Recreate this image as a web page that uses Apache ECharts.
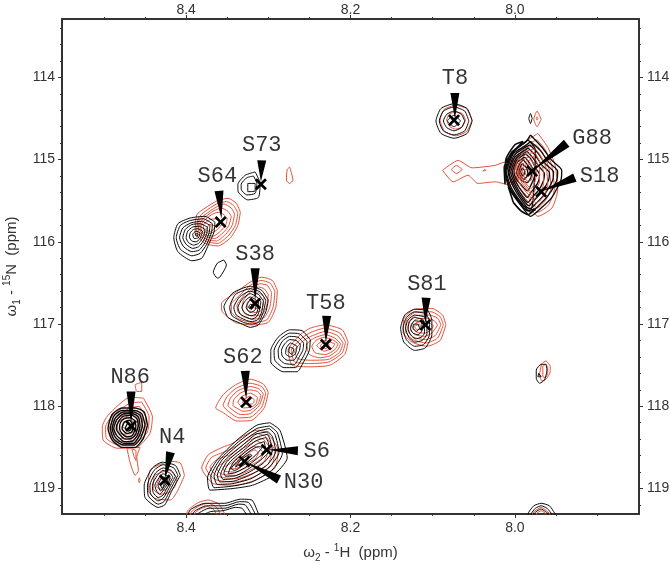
<!DOCTYPE html>
<html><head><meta charset="utf-8">
<style>html,body{margin:0;padding:0;background:#fff}#c{width:670px;height:565px}</style>
<script src="https://cdn.jsdelivr.net/npm/echarts@6/dist/echarts.min.js"></script>
</head><body><div id="c"></div>
<script>
// tick values (ppm)
const hMajor = [8.4, 8.2, 8.0];
const hMinor = [8.5, 8.45, 8.35, 8.3, 8.25, 8.15, 8.1, 8.05, 7.95, 7.9];
const nMajor = [114, 115, 116, 117, 118, 119];
const nMinor = [113.4, 113.6, 113.8, 114.2, 114.4, 114.6, 114.8, 115.2, 115.4, 115.6, 115.8, 116.2, 116.4, 116.6, 116.8, 117.2, 117.4, 117.6, 117.8, 118.2, 118.4, 118.6, 118.8, 119.2];

// assignments: name, peak 1H, peak 15N, label 1H, label 15N, pointer base 1H, base 15N, pointer tip 1H, tip 15N
const peakNames = ['T8','S73','S64','S38','T58','S62','N86','N4','S81','S6','N30','G88','S18'];
const peakH = [8.074,8.309,8.358,8.316,8.230,8.327,8.467,8.426,8.109,8.302,8.329,7.979,7.968];
const peakN = [114.52,115.30,115.76,116.75,117.25,117.95,118.24,118.90,117.01,118.53,118.67,115.14,115.39];
const labelH = [8.073,8.308,8.362,8.316,8.230,8.331,8.468,8.417,8.107,8.241,8.257,7.906,7.897];
const labelN = [114.01,114.82,115.20,116.15,116.75,117.40,117.65,118.38,116.51,118.55,118.92,114.74,115.20];
const baseH = [8.073,8.308,8.360,8.316,8.229,8.328,8.467,8.419,8.108,8.264,8.287,7.937,7.927];
const baseN = [114.19,115.01,115.38,116.32,116.90,117.57,117.82,118.56,116.68,118.54,118.89,114.80,115.22];
const tipH = [8.073,8.309,8.357,8.316,8.230,8.327,8.467,8.426,8.109,8.300,8.327,7.978,7.966];
const tipN = [114.50,115.27,115.72,116.71,117.22,117.91,118.21,118.88,116.99,118.53,118.68,115.13,115.38];

// contour loops: flat 1H,15N lists in ppm
const redT8 = [
[8.052,114.52,8.059,114.38,8.072,114.34,8.086,114.39,8.091,114.52,8.085,114.66,8.072,114.71,8.059,114.66],
[8.060,114.52,8.064,114.44,8.072,114.42,8.080,114.45,8.083,114.52,8.079,114.60,8.072,114.63,8.064,114.60]];
const blackT8 = [
[8.052,114.53,8.058,114.38,8.074,114.32,8.090,114.38,8.096,114.53,8.090,114.68,8.074,114.74,8.058,114.68],
[8.056,114.53,8.061,114.41,8.074,114.36,8.087,114.41,8.092,114.53,8.087,114.65,8.074,114.70,8.061,114.65],
[8.061,114.53,8.065,114.45,8.074,114.41,8.083,114.45,8.087,114.53,8.083,114.61,8.074,114.65,8.065,114.61],
[8.066,114.53,8.074,114.46,8.082,114.53,8.074,114.60]];
const blackS73 = [
[8.316,115.15,8.310,115.29,8.312,115.46,8.325,115.49,8.337,115.38,8.337,115.30,8.328,115.19],
[8.318,115.20,8.314,115.29,8.316,115.41,8.326,115.43,8.333,115.36,8.333,115.30,8.326,115.22],
[8.316,115.29,8.316,115.38,8.325,115.39,8.325,115.29]];
const redNearS73 = [[8.274,115.09,8.270,115.25,8.274,115.29,8.278,115.25,8.277,115.12]];
const redS64 = [
[8.334,115.64,8.339,115.53,8.349,115.47,8.362,115.50,8.377,115.59,8.387,115.67,8.389,115.88,8.377,116.02,8.361,116.05,8.346,115.95,8.337,115.80],
[8.337,115.65,8.342,115.56,8.351,115.51,8.363,115.54,8.377,115.63,8.385,115.71,8.387,115.87,8.376,115.99,8.362,116.02,8.349,115.93,8.340,115.80],
[8.341,115.66,8.345,115.59,8.354,115.54,8.364,115.58,8.377,115.67,8.384,115.74,8.385,115.86,8.375,115.97,8.363,115.99,8.352,115.91,8.344,115.80],
[8.345,115.69,8.349,115.63,8.357,115.59,8.366,115.62,8.378,115.71,8.383,115.78,8.383,115.86,8.375,115.94,8.365,115.96,8.355,115.89,8.348,115.80],
[8.350,115.72,8.354,115.67,8.361,115.64,8.369,115.67,8.379,115.75,8.382,115.81,8.381,115.87,8.375,115.92,8.367,115.93,8.358,115.87,8.352,115.80],
[8.356,115.78,8.362,115.72,8.371,115.73,8.379,115.80,8.378,115.87,8.371,115.90,8.362,115.85],
[8.364,115.81,8.371,115.79,8.376,115.85,8.370,115.88]];
const blackS64 = [
[8.365,115.76,8.377,115.69,8.395,115.71,8.410,115.78,8.415,115.95,8.410,116.12,8.393,116.23,8.381,116.20,8.373,116.04,8.366,115.88],
[8.368,115.78,8.379,115.72,8.395,115.74,8.407,115.80,8.412,115.95,8.407,116.09,8.393,116.17,8.383,116.14,8.375,116.03,8.369,115.88],
[8.371,115.80,8.381,115.75,8.394,115.77,8.404,115.83,8.408,115.95,8.403,116.06,8.393,116.12,8.384,116.10,8.377,116.01,8.372,115.89],
[8.374,115.82,8.383,115.78,8.393,115.79,8.401,115.85,8.404,115.95,8.400,116.03,8.392,116.08,8.385,116.06,8.379,115.99,8.375,115.90],
[8.377,115.85,8.384,115.81,8.392,115.82,8.398,115.87,8.400,115.95,8.397,116.01,8.391,116.04,8.385,116.02,8.381,115.97,8.378,115.91],
[8.380,115.87,8.386,115.84,8.391,115.85,8.395,115.89,8.396,115.94,8.393,115.99,8.388,116.00,8.383,115.96],
[8.383,115.89,8.388,115.87,8.392,115.91,8.390,115.96,8.385,115.95],
[8.386,115.90,8.389,115.90,8.388,115.93,8.386,115.93]];
const blackSmall = [[8.354,116.22,8.351,116.28,8.359,116.43,8.362,116.44,8.367,116.37,8.362,116.26]];
const redS38 = [
[8.289,116.59,8.295,116.47,8.308,116.43,8.322,116.49,8.340,116.62,8.357,116.75,8.356,116.85,8.340,116.98,8.320,117.01,8.300,116.98,8.291,116.80],
[8.292,116.60,8.298,116.50,8.309,116.47,8.322,116.53,8.336,116.66,8.345,116.76,8.345,116.85,8.335,116.94,8.320,116.98,8.302,116.95,8.294,116.79],
[8.296,116.62,8.301,116.53,8.310,116.51,8.322,116.57,8.332,116.68,8.338,116.77,8.337,116.85,8.330,116.91,8.320,116.94,8.305,116.92,8.298,116.79],
[8.300,116.64,8.305,116.57,8.312,116.55,8.322,116.61,8.330,116.71,8.332,116.80,8.328,116.88,8.318,116.90,8.307,116.88,8.302,116.78],
[8.305,116.67,8.312,116.62,8.320,116.68,8.326,116.75,8.325,116.83,8.316,116.86,8.308,116.83],
[8.312,116.72,8.318,116.72,8.320,116.79,8.314,116.81]];
const blackS38 = [
[8.300,116.71,8.308,116.59,8.322,116.54,8.343,116.62,8.354,116.79,8.349,116.92,8.334,116.99,8.322,117.04,8.312,117.01,8.303,116.85],
[8.303,116.71,8.310,116.61,8.322,116.57,8.340,116.64,8.347,116.80,8.344,116.90,8.330,116.98,8.321,117.00,8.312,116.98,8.306,116.85],
[8.306,116.72,8.312,116.64,8.322,116.60,8.335,116.67,8.342,116.80,8.339,116.89,8.328,116.95,8.321,116.97,8.313,116.95,8.308,116.85],
[8.309,116.73,8.314,116.67,8.322,116.63,8.332,116.70,8.337,116.80,8.334,116.88,8.326,116.92,8.320,116.94,8.314,116.91,8.311,116.84],
[8.312,116.74,8.316,116.70,8.322,116.67,8.329,116.73,8.332,116.80,8.329,116.86,8.321,116.90,8.315,116.88,8.313,116.83],
[8.315,116.75,8.322,116.71,8.327,116.80,8.322,116.86,8.316,116.83],
[8.318,116.77,8.322,116.76,8.324,116.80,8.320,116.82]];
const redT58 = [
[8.203,117.22,8.210,117.07,8.231,117.01,8.249,117.05,8.261,117.13,8.276,117.32,8.271,117.50,8.249,117.52,8.225,117.50,8.207,117.37],
[8.206,117.22,8.213,117.11,8.231,117.05,8.248,117.10,8.259,117.17,8.272,117.32,8.268,117.46,8.249,117.48,8.226,117.46,8.210,117.35],
[8.209,117.23,8.216,117.14,8.231,117.09,8.246,117.14,8.257,117.20,8.268,117.33,8.264,117.42,8.249,117.44,8.227,117.43,8.213,117.34],
[8.212,117.24,8.219,117.17,8.231,117.13,8.244,117.17,8.253,117.25,8.250,117.37,8.237,117.41,8.226,117.39,8.216,117.32],
[8.215,117.24,8.222,117.19,8.232,117.16,8.242,117.20,8.247,117.27,8.243,117.35,8.230,117.37,8.219,117.31],
[8.219,117.24,8.232,117.20,8.241,117.26,8.232,117.33,8.222,117.29],
[8.226,117.25,8.233,117.23,8.237,117.27,8.230,117.30]];
const blackT58 = [
[8.249,117.19,8.259,117.08,8.274,117.07,8.288,117.16,8.297,117.32,8.297,117.46,8.282,117.58,8.265,117.58,8.257,117.46,8.250,117.32],
[8.253,117.21,8.262,117.12,8.274,117.11,8.286,117.19,8.293,117.32,8.292,117.44,8.281,117.53,8.267,117.53,8.260,117.44,8.254,117.32],
[8.257,117.23,8.264,117.16,8.274,117.15,8.283,117.21,8.288,117.32,8.287,117.42,8.280,117.48,8.268,117.49,8.263,117.41,8.258,117.32],
[8.261,117.25,8.266,117.20,8.274,117.19,8.280,117.24,8.284,117.32,8.283,117.39,8.277,117.44,8.269,117.44,8.265,117.38,8.262,117.32],
[8.265,117.27,8.273,117.23,8.278,117.29,8.279,117.36,8.273,117.40,8.267,117.36],
[8.269,117.30,8.274,117.28,8.275,117.34,8.271,117.37]];
const redS62 = [
[8.300,117.83,8.306,117.73,8.322,117.67,8.340,117.74,8.355,117.86,8.364,118.02,8.356,118.07,8.338,118.18,8.320,118.17,8.305,118.02],
[8.303,117.84,8.308,117.76,8.322,117.72,8.339,117.78,8.350,117.88,8.355,117.99,8.350,118.05,8.336,118.14,8.321,118.13,8.308,118.01],
[8.306,117.85,8.311,117.79,8.322,117.76,8.337,117.81,8.346,117.90,8.349,117.99,8.344,118.04,8.334,118.10,8.322,118.09,8.311,117.99],
[8.309,117.87,8.313,117.82,8.323,117.80,8.334,117.84,8.342,117.92,8.343,117.99,8.337,118.03,8.331,118.06,8.322,118.05,8.313,117.98],
[8.313,117.89,8.322,117.84,8.332,117.88,8.337,117.95,8.330,118.02,8.321,118.01,8.315,117.97],
[8.317,117.92,8.323,117.88,8.330,117.92,8.331,117.96,8.324,117.98,8.318,117.96]];
const redN86 = [
[8.452,117.90,8.441,118.13,8.444,118.33,8.460,118.50,8.484,118.51,8.501,118.41,8.502,118.25,8.495,118.11,8.468,117.89],
[8.454,117.95,8.445,118.13,8.447,118.31,8.461,118.45,8.483,118.47,8.497,118.39,8.498,118.25,8.490,118.12,8.468,117.96],
[8.457,118.00,8.449,118.14,8.451,118.30,8.463,118.42,8.482,118.43,8.491,118.37,8.493,118.25,8.486,118.14,8.468,118.02],
[8.459,118.05,8.453,118.15,8.455,118.28,8.465,118.38,8.480,118.39,8.487,118.33,8.489,118.24,8.483,118.15,8.469,118.07],
[8.461,118.10,8.458,118.18,8.460,118.27,8.467,118.33,8.478,118.34,8.483,118.29,8.484,118.22,8.478,118.16,8.469,118.11],
[8.466,118.17,8.463,118.23,8.470,118.28,8.477,118.25,8.476,118.19]];
const redN86Extras = [
[8.472,118.51,8.468,118.69,8.462,118.84,8.458,118.78,8.460,118.62,8.456,118.50],
[8.466,118.52,8.463,118.62,8.461,118.66,8.461,118.54],
[8.454,117.71,8.454,117.82,8.460,117.82,8.462,117.74],
[8.457,118.87,8.456,118.90,8.457,118.93,8.458,118.90]];
const blackN86 = [
[8.447,118.23,8.451,118.07,8.462,118.02,8.478,118.02,8.490,118.10,8.495,118.27,8.490,118.41,8.478,118.50,8.462,118.50,8.452,118.39],
[8.450,118.23,8.454,118.09,8.463,118.05,8.478,118.05,8.488,118.12,8.492,118.27,8.488,118.40,8.477,118.47,8.463,118.47,8.455,118.38],
[8.453,118.24,8.456,118.11,8.464,118.07,8.477,118.07,8.486,118.14,8.490,118.27,8.486,118.38,8.476,118.45,8.464,118.45,8.457,118.36],
[8.456,118.24,8.458,118.13,8.465,118.09,8.476,118.09,8.484,118.16,8.488,118.27,8.484,118.36,8.475,118.43,8.465,118.42,8.459,118.35],
[8.458,118.24,8.460,118.15,8.466,118.11,8.476,118.12,8.482,118.18,8.485,118.27,8.481,118.34,8.474,118.40,8.466,118.39,8.461,118.33],
[8.461,118.24,8.463,118.17,8.468,118.14,8.475,118.15,8.480,118.20,8.481,118.27,8.478,118.33,8.472,118.37,8.466,118.36,8.463,118.31],
[8.464,118.24,8.469,118.17,8.475,118.19,8.478,118.27,8.472,118.33,8.466,118.31],
[8.467,118.23,8.471,118.21,8.474,118.27,8.470,118.30,8.467,118.28]];
const redN4 = [
[8.402,118.84,8.407,118.69,8.419,118.67,8.444,118.78,8.446,119.02,8.438,119.12,8.419,119.14,8.410,119.02],
[8.411,118.88,8.420,118.78,8.438,118.84,8.440,119.00,8.432,119.07,8.421,119.05,8.414,118.98],
[8.420,118.88,8.432,118.88,8.436,118.98,8.426,119.02,8.421,118.96]];
const blackN4 = [
[8.407,118.84,8.413,118.72,8.429,118.68,8.441,118.75,8.451,118.96,8.450,119.11,8.434,119.23,8.426,119.20,8.417,119.02],
[8.410,118.84,8.415,118.75,8.428,118.71,8.439,118.78,8.447,118.96,8.446,119.09,8.434,119.19,8.427,119.16,8.419,119.01],
[8.413,118.85,8.418,118.78,8.428,118.75,8.437,118.81,8.444,118.96,8.443,119.07,8.434,119.15,8.428,119.12,8.421,119.00],
[8.416,118.86,8.420,118.81,8.428,118.78,8.435,118.84,8.441,118.96,8.440,119.05,8.434,119.11,8.428,119.08,8.423,118.99],
[8.419,118.87,8.428,118.82,8.433,118.87,8.438,118.96,8.436,119.03,8.432,119.07,8.425,118.98],
[8.422,118.89,8.428,118.86,8.434,118.96,8.431,119.03,8.427,118.98],
[8.426,118.92,8.431,118.96,8.429,119.00]];
const redS6 = [
[8.302,118.31,8.288,118.53,8.292,118.75,8.316,118.90,8.340,118.96,8.367,118.94,8.381,118.75,8.373,118.59,8.356,118.50,8.343,118.45,8.328,118.35,8.314,118.29],
[8.304,118.36,8.292,118.54,8.296,118.72,8.318,118.86,8.340,118.92,8.365,118.89,8.376,118.75,8.369,118.62,8.352,118.55,8.340,118.49,8.326,118.39,8.314,118.33],
[8.306,118.40,8.296,118.55,8.300,118.70,8.320,118.82,8.340,118.88,8.362,118.85,8.371,118.74,8.363,118.65,8.347,118.59,8.335,118.50,8.324,118.42,8.314,118.38],
[8.309,118.45,8.301,118.56,8.305,118.67,8.323,118.78,8.340,118.84,8.358,118.82,8.363,118.75,8.352,118.67,8.335,118.54,8.322,118.46,8.314,118.42],
[8.312,118.50,8.306,118.57,8.310,118.65,8.326,118.74,8.340,118.80,8.353,118.79,8.355,118.75,8.345,118.69,8.330,118.56,8.318,118.49],
[8.312,118.57,8.316,118.64,8.329,118.71,8.341,118.76,8.348,118.76,8.338,118.68,8.325,118.57,8.316,118.53],
[8.320,118.60,8.332,118.69,8.341,118.72,8.334,118.65,8.324,118.60]];
const blackS6 = [
[8.298,118.20,8.286,118.29,8.277,118.63,8.294,118.84,8.319,118.96,8.343,119.00,8.371,119.02,8.374,118.87,8.362,118.65,8.338,118.41,8.314,118.23],
[8.298,118.24,8.289,118.32,8.283,118.58,8.296,118.78,8.320,118.92,8.343,118.97,8.366,118.99,8.370,118.86,8.359,118.65,8.336,118.43,8.314,118.27],
[8.299,118.27,8.292,118.34,8.287,118.56,8.299,118.74,8.321,118.88,8.343,118.94,8.362,118.95,8.366,118.85,8.356,118.65,8.334,118.45,8.314,118.31],
[8.300,118.31,8.295,118.37,8.291,118.55,8.302,118.72,8.323,118.84,8.342,118.91,8.359,118.92,8.362,118.84,8.353,118.66,8.332,118.48,8.315,118.34],
[8.301,118.34,8.298,118.40,8.295,118.54,8.306,118.69,8.325,118.81,8.342,118.88,8.355,118.89,8.358,118.83,8.350,118.67,8.330,118.50,8.315,118.38],
[8.303,118.38,8.300,118.44,8.299,118.54,8.310,118.66,8.327,118.78,8.342,118.85,8.352,118.85,8.354,118.81,8.347,118.68,8.328,118.52,8.315,118.42],
[8.305,118.43,8.303,118.54,8.313,118.63,8.329,118.75,8.341,118.81,8.349,118.82,8.343,118.69,8.326,118.54,8.314,118.46],
[8.307,118.50,8.316,118.60,8.331,118.72,8.341,118.78,8.345,118.76,8.338,118.67,8.322,118.54,8.312,118.49],
[8.320,118.60,8.334,118.70,8.340,118.74,8.334,118.66,8.322,118.58]];
const redBottomLeft = [
[8.353,119.31,8.360,119.19,8.373,119.14,8.385,119.17,8.398,119.27,8.400,119.40,8.370,119.55,8.350,119.40],
[8.358,119.31,8.364,119.22,8.373,119.18,8.384,119.21,8.394,119.29,8.395,119.40,8.370,119.50,8.355,119.40],
[8.363,119.31,8.367,119.25,8.374,119.22,8.383,119.25,8.390,119.31,8.388,119.40,8.370,119.45,8.360,119.38]];
const blackBottomLeft = [
[8.312,119.31,8.320,119.14,8.334,119.13,8.353,119.18,8.377,119.18,8.395,119.26,8.400,119.40,8.350,119.60,8.310,119.40],
[8.316,119.31,8.324,119.17,8.335,119.16,8.353,119.21,8.375,119.21,8.390,119.28,8.395,119.40,8.350,119.55,8.315,119.40],
[8.321,119.31,8.328,119.20,8.336,119.19,8.353,119.24,8.372,119.24,8.386,119.31,8.390,119.40,8.350,119.50,8.320,119.40],
[8.327,119.31,8.332,119.24,8.340,119.23,8.355,119.27,8.370,119.28,8.380,119.33,8.350,119.45,8.325,119.38]];
const redS81 = [
[8.084,117.01,8.088,116.89,8.101,116.81,8.122,116.82,8.135,116.93,8.136,117.10,8.125,117.22,8.107,117.27,8.091,117.20],
[8.087,117.01,8.091,116.91,8.102,116.85,8.122,116.86,8.132,116.95,8.133,117.09,8.124,117.19,8.108,117.23,8.094,117.17],
[8.090,117.01,8.094,116.93,8.104,116.89,8.121,116.90,8.129,116.97,8.130,117.08,8.123,117.16,8.109,117.19,8.097,117.14],
[8.094,117.01,8.098,116.96,8.106,116.93,8.120,116.94,8.126,117.00,8.127,117.07,8.121,117.13,8.110,117.15,8.101,117.11],
[8.099,117.02,8.108,116.97,8.119,116.98,8.124,117.04,8.119,117.10,8.110,117.11,8.103,117.08],
[8.116,117.00,8.122,117.03,8.119,117.07,8.114,117.05]];
const blackS81 = [
[8.106,116.83,8.122,116.82,8.134,116.89,8.139,117.05,8.135,117.22,8.122,117.32,8.109,117.29,8.101,117.13,8.101,116.95],
[8.108,116.87,8.122,116.85,8.132,116.92,8.136,117.05,8.132,117.19,8.122,117.27,8.111,117.25,8.104,117.13,8.104,116.97],
[8.110,116.91,8.122,116.89,8.130,116.95,8.133,117.05,8.129,117.16,8.122,117.22,8.113,117.20,8.107,117.12,8.107,116.99],
[8.112,116.94,8.122,116.92,8.128,116.97,8.130,117.05,8.127,117.13,8.121,117.18,8.114,117.16,8.110,117.11,8.110,117.00],
[8.114,116.97,8.122,116.96,8.127,117.05,8.124,117.11,8.118,117.13,8.113,117.08,8.113,117.01],
[8.118,117.00,8.123,117.00,8.124,117.05,8.120,117.09,8.116,117.05]];
const redSmallRight = [
[7.957,117.51,7.962,117.45,7.967,117.48,7.970,117.62,7.967,117.69,7.962,117.67,7.957,117.58],
[7.960,117.52,7.963,117.49,7.966,117.52,7.966,117.64,7.963,117.65,7.960,117.60]];
const blackSmallRight = [
[7.962,117.49,7.961,117.56,7.964,117.68,7.970,117.72,7.974,117.66,7.974,117.56,7.968,117.49],
[7.971,117.60,7.968,117.64,7.972,117.64]];
const redBottomRight = [
[7.957,119.31,7.968,119.23,7.979,119.31,7.968,119.42],
[7.962,119.31,7.968,119.27,7.974,119.31,7.968,119.38]];
const blackBottomRight = [
[7.951,119.31,7.958,119.21,7.968,119.18,7.977,119.21,7.984,119.31,7.968,119.50],
[7.955,119.31,7.961,119.24,7.968,119.21,7.975,119.24,7.980,119.31,7.968,119.45],
[7.959,119.31,7.968,119.25,7.977,119.31,7.968,119.40]];
const redDiamond = [
[7.968,114.51,7.973,114.41,7.977,114.51,7.973,114.60],
[7.972,114.50,7.973,114.48,7.974,114.50,7.973,114.52]];
const blackDiamond = [[7.979,114.50,7.981,114.44,7.983,114.50,7.981,114.56]];
const blackG88 = [
[7.981,114.70,7.967,114.85,7.955,115.01,7.943,115.13,7.944,115.25,7.955,115.46,7.967,115.58,7.981,115.69,7.991,115.58,8.006,115.37,8.012,115.16,8.004,114.91,7.987,114.79],
[7.984,114.76,7.975,114.88,7.980,115.60,7.990,115.56,8.005,115.36,8.011,115.16,8.003,114.92],
[7.981,114.78,7.969,114.89,7.959,115.03,7.948,115.14,7.949,115.25,7.959,115.43,7.970,115.55,7.981,115.64,7.990,115.55,8.004,115.35,8.010,115.16,8.002,114.93,7.987,114.83],
[7.982,114.82,7.972,114.92,7.963,115.05,7.953,115.15,7.954,115.25,7.963,115.41,7.973,115.52,7.982,115.60,7.990,115.52,8.002,115.33,8.008,115.16,8.001,114.95,7.989,114.86],
[7.984,114.86,7.975,114.95,7.967,115.07,7.958,115.16,7.959,115.25,7.967,115.39,7.976,115.49,7.983,115.56,7.990,115.49,8.001,115.31,8.007,115.16,8.000,114.97,7.990,114.90],
[7.985,114.90,7.978,114.98,7.971,115.08,7.964,115.17,7.965,115.25,7.971,115.37,7.979,115.46,7.984,115.52,7.990,115.46,8.000,115.29,8.005,115.16,7.999,114.99,7.991,114.93],
[7.987,114.93,7.980,115.00,7.975,115.10,7.970,115.18,7.972,115.28,7.979,115.38,7.985,115.46,7.992,115.38,7.999,115.27,8.003,115.16,7.998,115.01,7.992,114.96],
[7.988,114.97,7.983,115.03,7.978,115.12,7.976,115.19,7.979,115.28,7.985,115.38,7.993,115.30,7.998,115.24,8.001,115.16,7.997,115.03],
[7.990,115.00,7.985,115.06,7.981,115.13,7.980,115.20,7.985,115.28,7.992,115.25,7.998,115.16,7.994,115.05],
[7.991,115.05,7.986,115.10,7.984,115.18,7.989,115.24,7.995,115.16,7.993,115.08],
[7.991,115.10,7.988,115.14,7.990,115.20,7.993,115.15]];
const blackG88Edge = [
[8.012,115.30,8.013,115.10,8.006,114.95,7.998,114.86,7.990,114.78,8.000,114.82,8.011,115.00],
[8.002,115.52,7.993,115.62,7.984,115.67,7.975,115.60,7.985,115.62,7.995,115.52,8.008,115.33]];
const redG88 = [
[7.972,114.68,7.960,114.85,7.951,115.07,7.948,115.37,7.955,115.59,7.972,115.69,7.984,115.55,8.000,115.37,8.008,115.13,8.000,114.88,7.984,114.76],
[7.973,114.76,7.963,114.88,7.955,115.08,7.952,115.36,7.959,115.55,7.972,115.64,7.984,115.51,7.997,115.35,8.005,115.13,7.998,114.91,7.985,114.81],
[7.974,114.82,7.966,114.92,7.959,115.09,7.956,115.34,7.963,115.50,7.973,115.59,7.983,115.47,7.995,115.33,8.003,115.13,7.996,114.94,7.986,114.86],
[7.975,114.87,7.969,114.95,7.962,115.10,7.960,115.31,7.966,115.46,7.974,115.53,7.983,115.43,7.993,115.31,8.000,115.13,7.995,114.97,7.987,114.90],
[7.976,114.91,7.972,114.98,7.966,115.11,7.965,115.29,7.970,115.41,7.976,115.47,7.983,115.39,7.991,115.29,7.998,115.13,7.993,115.00,7.987,114.94],
[7.977,114.96,7.970,115.12,7.970,115.27,7.975,115.37,7.978,115.41,7.984,115.35,7.990,115.27,7.996,115.14,7.992,115.03,7.986,114.98],
[7.980,115.00,7.974,115.13,7.975,115.25,7.980,115.35,7.985,115.31,7.990,115.24,7.994,115.14,7.990,115.05,7.986,115.02],
[7.982,115.05,7.978,115.14,7.980,115.25,7.985,115.26,7.989,115.20,7.991,115.13,7.988,115.07],
[7.984,115.10,7.982,115.15,7.985,115.21,7.988,115.13]];
const redTail = [
[8.088,115.13,8.069,115.01,8.052,115.10,8.024,115.07,8.012,115.03,7.994,115.13,8.006,115.31,8.024,115.27,8.045,115.29,8.057,115.19,8.075,115.27],
[8.064,115.12,8.071,115.07,8.077,115.12,8.071,115.17],
[8.035,115.13,8.037,115.12,8.039,115.14],
[8.012,115.13,8.006,115.00,7.996,115.05,7.996,115.25,8.006,115.28]];

const redLayers = [redNearS73,redS64,redS38,redT58,redS62,redN86,redN86Extras,redN4,redS6,redBottomLeft,redS81,redSmallRight,redBottomRight,redDiamond,redTail,redT8];
const blackLayers = [blackT8,blackS73,blackS64,blackSmall,blackS38,blackT58,blackN4,blackS6,blackBottomLeft,blackS81,blackSmallRight,blackBottomRight,blackDiamond];

const RED = '#e4503a', BLACK = '#0a0a0a', AXIS = '#333333', TXT = '#333333';
const SANS = '"Liberation Sans", Arial, sans-serif';
const series = [];
function addLoop(flat, color, width) {
  const pts = [];
  for (let i = 0; i < flat.length; i += 2) pts.push([flat[i], flat[i + 1]]);
  pts.push(pts[0].slice());
  series.push({type:'line', xAxisIndex:0, yAxisIndex:0, data:pts, symbol:'none', showSymbol:false, smooth:0.2,
    clip:true, silent:true, animation:false, lineStyle:{color, width}, z:2});
}
redLayers.forEach(l => l.forEach(f => addLoop(f, RED, 1)));
redG88.slice(0,3).forEach(f => addLoop(f, RED, 1));
blackLayers.forEach(l => l.forEach(f => addLoop(f, BLACK, 1)));
blackN86.forEach(f => addLoop(f, BLACK, 1.4));
blackG88.forEach(f => addLoop(f, BLACK, 1.3));
blackG88Edge.forEach(f => addLoop(f, BLACK, 1.6));
redG88.slice(3).forEach(f => addLoop(f, RED, 1));

// pointers
series.push({type:'custom', xAxisIndex:0, yAxisIndex:0, silent:true, animation:false, z:5, clip:false,
  data: peakNames.map((n,i)=>[tipH[i],tipN[i],baseH[i],baseN[i]]),
  encode:{x:[0,2],y:[1,3]},
  renderItem(params, api){
    const t = api.coord([api.value(0),api.value(1)]), b = api.coord([api.value(2),api.value(3)]);
    const dx=b[0]-t[0], dy=b[1]-t[1], L=Math.hypot(dx,dy)||1, nx=-dy/L*4.5, ny=dx/L*4.5;
    return {type:'polygon', shape:{points:[t,[b[0]+nx,b[1]+ny],[b[0]-nx,b[1]-ny]]}, style:{fill:'#000'}};
  }});
// crosses
series.push({type:'scatter', xAxisIndex:0, yAxisIndex:0, silent:true, animation:false, z:6,
  symbol:'path://M0 3.2L3.2 0L10 6.8L16.8 0L20 3.2L13.2 10L20 16.8L16.8 20L10 13.2L3.2 20L0 16.8L6.8 10Z',
  symbolSize:12, itemStyle:{color:'#000',opacity:1},
  data: peakH.map((h,i)=>[h,peakN[i]])});
// labels
series.push({type:'scatter', xAxisIndex:0, yAxisIndex:0, silent:true, animation:false, z:7,
  symbol:'circle', symbolSize:0,
  data: peakNames.map((n,i)=>({name:n, value:[labelH[i],labelN[i]]})),
  label:{show:true, position:'inside', formatter:p=>p.name, fontFamily:'"Liberation Mono", monospace', fontSize:22, color:'#000'}});

const rect = {left:62, right:31, top:19, bottom:51, outerBoundsMode:'none', containLabel:false};
const common = {type:'value', scale:false, splitLine:{show:false}};
const hBase = {...common, min:7.849, max:8.551, inverse:true};
const nBase = {...common, min:113.29, max:119.31, inverse:true};
const fmtH = v => Number(v).toFixed(1);
const fmtN = v => String(Math.round(v));
const line = {show:true, onZero:false, lineStyle:{color:AXIS, width:2}};
const noLine = {show:false, onZero:false};
const lab = (vals, fmt, margin) => ({show:true, customValues:vals, formatter:fmt, margin, fontFamily:SANS, fontSize:14, color:TXT, showMinLabel:true, showMaxLabel:true});
const tick = (vals, length) => ({show:true, customValues:vals, length, lineStyle:{color:AXIS, width:1}});
const richName = {sub:{fontSize:10,verticalAlign:'bottom',fontFamily:SANS,color:TXT,padding:[10,0,0,0]},sup:{fontSize:10,verticalAlign:'top',fontFamily:SANS,color:TXT,padding:[0,0,10,0]}};

const option = {
  animation:false, backgroundColor:'#fff',
  grid:[{...rect},{...rect}],
  xAxis:[
    {...hBase, gridIndex:0, position:'bottom', axisLine:line, axisTick:tick(hMajor,4), axisLabel:lab(hMajor,fmtH,7),
      name:'ω{sub|2} - {sup|1}H  (ppm)', nameLocation:'middle', nameGap:29,
      nameTextStyle:{fontFamily:SANS, fontSize:15, color:TXT, rich:richName}},
    {...hBase, gridIndex:0, position:'top', axisLine:line, axisTick:tick(hMajor,4), axisLabel:lab(hMajor,fmtH,2)},
    {...hBase, gridIndex:1, position:'bottom', axisLine:noLine, axisTick:tick(hMinor,2), axisLabel:{show:false}},
    {...hBase, gridIndex:1, position:'top', axisLine:noLine, axisTick:tick(hMinor,2), axisLabel:{show:false}}
  ],
  yAxis:[
    {...nBase, gridIndex:0, position:'left', axisLine:line, axisTick:tick(nMajor,4), axisLabel:lab(nMajor,fmtN,7),
      name:'ω{sub|1} - {sup|15}N  (ppm)', nameLocation:'middle', nameGap:39, nameRotate:90,
      nameTextStyle:{fontFamily:SANS, fontSize:15, color:TXT, rich:richName}},
    {...nBase, gridIndex:0, position:'right', axisLine:line, axisTick:tick(nMajor,4), axisLabel:lab(nMajor,fmtN,8)},
    {...nBase, gridIndex:1, position:'left', axisLine:noLine, axisTick:tick(nMinor,2), axisLabel:{show:false}},
    {...nBase, gridIndex:1, position:'right', axisLine:noLine, axisTick:tick(nMinor,2), axisLabel:{show:false}}
  ],
  series
};
const chart = echarts.init(document.getElementById('c'), null, {renderer:'canvas'});
chart.setOption(option);
</script></body></html>
